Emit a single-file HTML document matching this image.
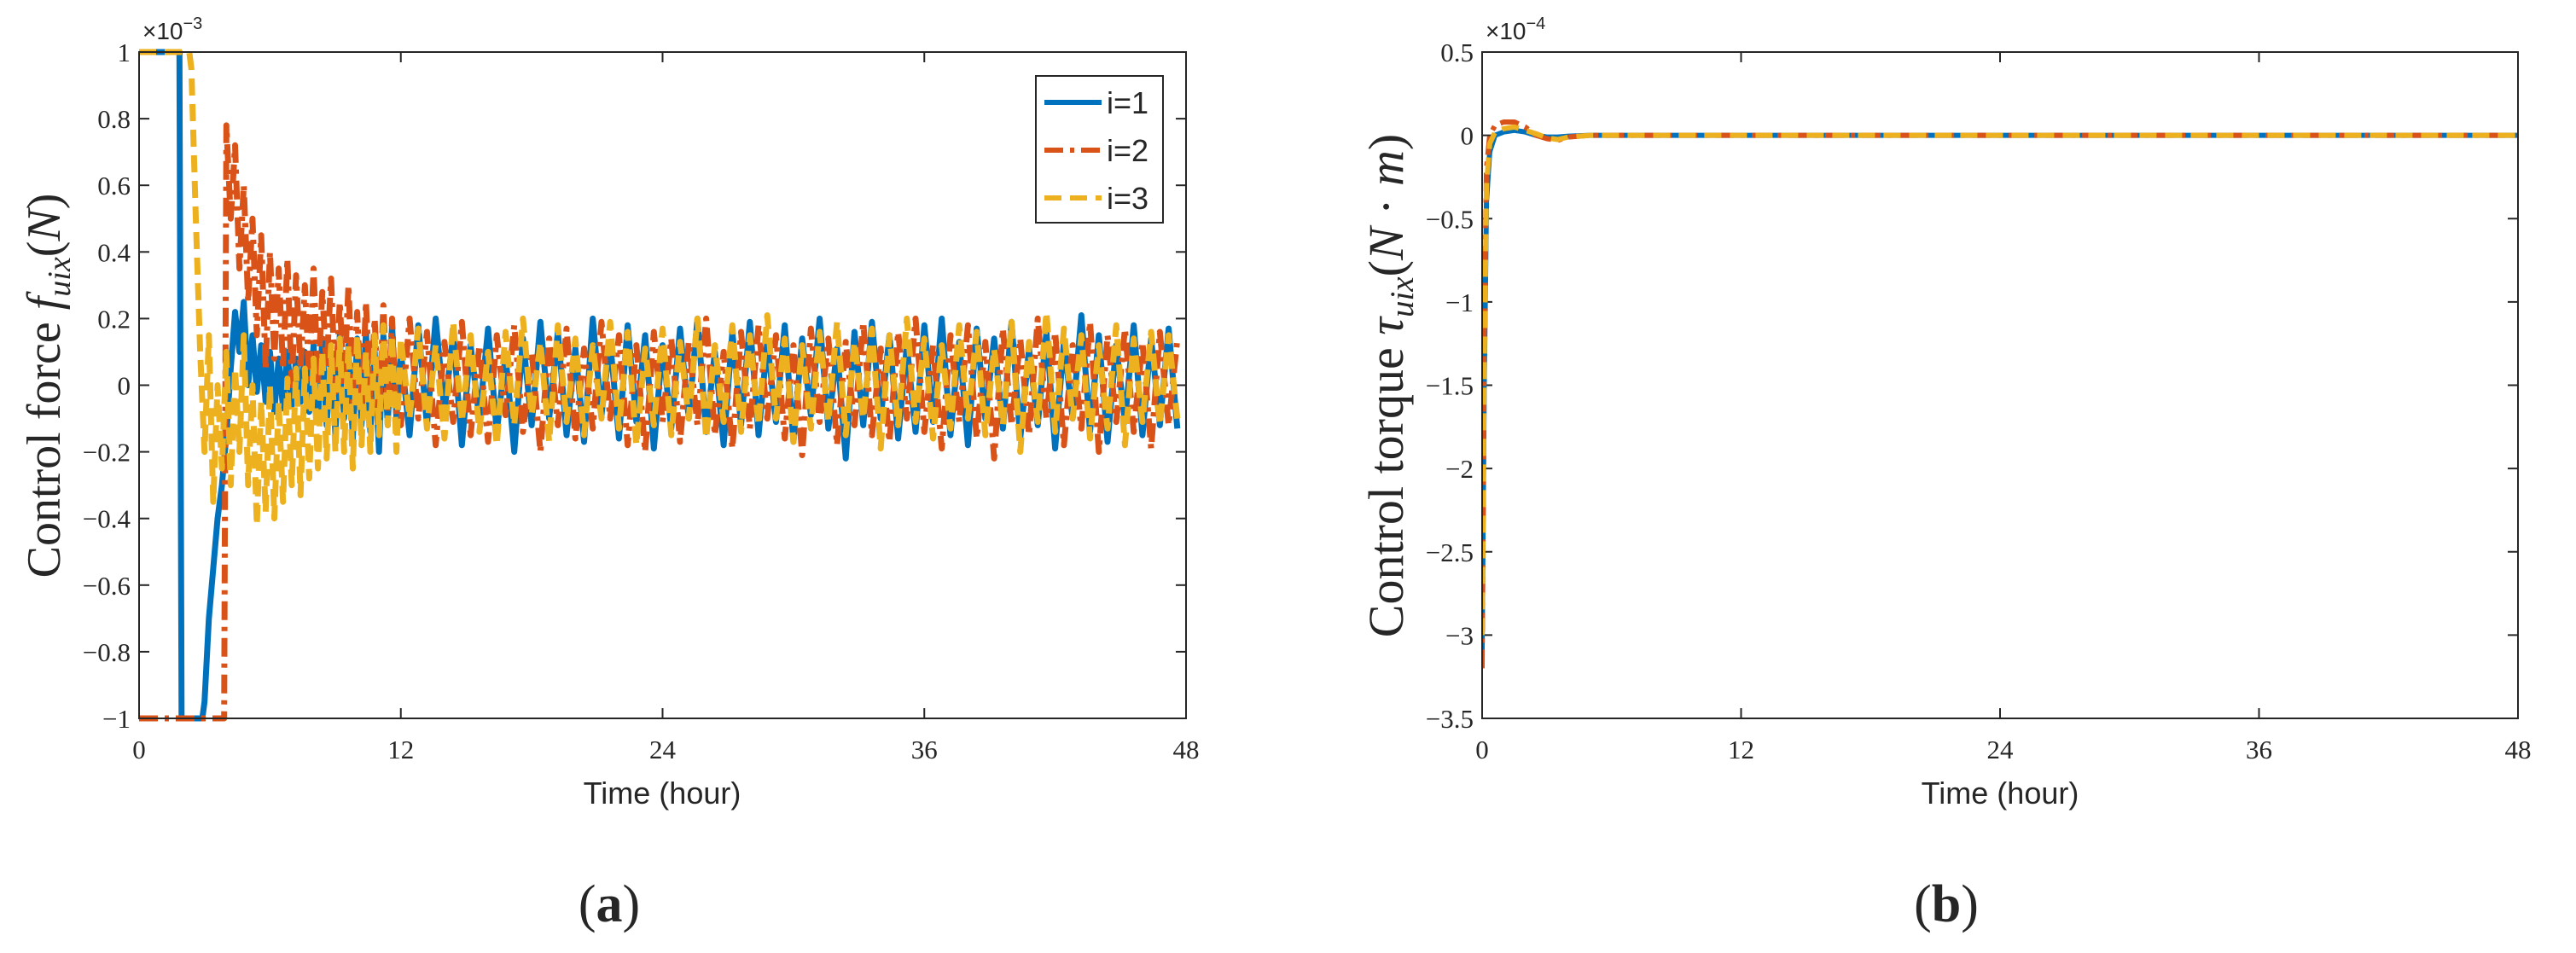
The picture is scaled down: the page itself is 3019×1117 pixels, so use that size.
<!DOCTYPE html>
<html><head><meta charset="utf-8"><style>
html,body{margin:0;padding:0;background:#fff}
svg{display:block}
text{fill:#262626}
.tk{font-family:"Liberation Serif",serif;font-size:31px}
.xl{font-family:"Liberation Sans",sans-serif;font-size:36px}
</style></head><body>
<svg id="fig" width="3019" height="1117" viewBox="0 0 3019 1117" xmlns="http://www.w3.org/2000/svg">
<defs>
<clipPath id="clipA"><rect x="163" y="56" width="1227" height="790"/></clipPath>
<clipPath id="clipB"><rect x="1737" y="56" width="1214" height="790"/></clipPath>
</defs>
<g id="gA"></g>
<g id="gB"></g>
</svg>
<script>
// ---- Panel (a) data: control force (x1e-3 N) ----
const xTicksA = [0, 12, 24, 36, 48];
const yTicksA = [-1, -0.8, -0.6, -0.4, -0.2, 0, 0.2, 0.4, 0.6, 0.8, 1];
const yTickLabelsA = ["\u22121","\u22120.8","\u22120.6","\u22120.4","\u22120.2","0","0.2","0.4","0.6","0.8","1"];
const legendLabels = ["i=1","i=2","i=3"];
const blueHeadT = [0, 1.85, 1.95, 2.9];
const blueHeadV = [1, 1, -1, -1];
const orangeHeadT = [0, 3.9];
const orangeHeadV = [-1, -1];
const yellowHeadT = [0, 2.3];
const yellowHeadV = [1, 1];
const blueTransStart = 3.0;
const blueTrans = [-0.95,-0.7,-0.55,-0.4,-0.3,-0.15,0.05,0.22,0.1,0.25,0.0,0.15,-0.02,0.12,-0.05,0.1,-0.08,0.08,-0.07,0.1,-0.06,0.08,-0.05,0.1,-0.08,0.12,-0.1,0.14,-0.12,0.1,-0.15,0.15,-0.1,0.12,-0.16,0.14,-0.12,0.16,-0.14,0.1,-0.2,0.15,-0.12,0.18,-0.1];
const orangeTransStart = 4.0;
const orangeTrans = [0.78,0.5,0.72,0.35,0.6,0.25,0.5,0.15,0.45,0.05,0.4,0.08,0.35,0.05,0.38,0.0,0.33,0.05,0.3,0.02,0.35,0.0,0.28,0.05,0.32,-0.02,0.25,0.0,0.3,-0.05,0.22,-0.08,0.25,-0.05,0.2,-0.1,0.24,-0.08,0.2,-0.1];
const yellowTransStart = 2.4;
const yellowTrans = [0.95,0.5,0.1,-0.2,0.15,-0.35,0.0,-0.25,0.1,-0.3,0.05,-0.2,0.15,-0.3,0.0,-0.42,-0.05,-0.38,0.0,-0.4,-0.05,-0.35,0.02,-0.3,0.05,-0.33,0.05,-0.28,0.08,-0.25,0.1,-0.22,0.12,-0.2,0.14,-0.2,0.12,-0.25,0.15,-0.18,0.1,-0.2,0.15,-0.15,0.18,-0.12,0.15,-0.2];
const steadyStart = 12.0;
const blueSteady = [0.1,-0.15,0.18,-0.12,0.2,-0.08,0.15,-0.18,0.12,-0.1,0.17,-0.14,0.09,-0.2,0.14,-0.12,0.19,-0.1,0.16,-0.15,0.11,-0.17,0.2,-0.09,0.13,-0.16,0.18,-0.11,0.15,-0.19,0.12,-0.13,0.17,-0.1,0.2,-0.14,0.1,-0.18,0.16,-0.12,0.19,-0.15,0.13,-0.11,0.18,-0.17,0.14,-0.09,0.2,-0.13,0.11,-0.22,0.16,-0.12,0.19,-0.1,0.15,-0.16,0.12,-0.14,0.18,-0.11,0.2,-0.15,0.13,-0.18,0.17,-0.1,0.14,-0.13,0.19,-0.16,0.11,-0.12,0.16,-0.19,0.13,-0.1,0.21,-0.14,0.15,-0.17,0.12,-0.11,0.18,-0.15,0.14,-0.12,0.17,-0.13];
const orangeSteady = [-0.12,0.2,-0.1,0.16,-0.18,0.13,-0.11,0.19,-0.15,0.12,-0.17,0.15,-0.09,0.18,-0.14,0.1,-0.2,0.14,-0.12,0.17,-0.16,0.11,-0.13,0.19,-0.1,0.15,-0.18,0.12,-0.2,0.16,-0.11,0.14,-0.17,0.13,-0.12,0.2,-0.15,0.1,-0.19,0.16,-0.13,0.18,-0.1,0.15,-0.16,0.12,-0.21,0.17,-0.11,0.14,-0.18,0.13,-0.12,0.19,-0.15,0.11,-0.17,0.16,-0.1,0.2,-0.14,0.12,-0.19,0.15,-0.11,0.18,-0.16,0.13,-0.22,0.17,-0.12,0.14,-0.15,0.2,-0.1,0.16,-0.18,0.12,-0.13,0.19,-0.2,0.15,-0.11,0.17,-0.14,0.13,-0.19,0.16,-0.12,0.14];
const yellowSteady = [0.14,-0.1,0.17,-0.13,0.12,-0.16,0.19,-0.11,0.15,-0.14,0.1,-0.18,0.16,-0.12,0.2,-0.09,0.13,-0.17,0.18,-0.11,0.14,-0.15,0.12,-0.1,0.19,-0.13,0.16,-0.18,0.11,-0.12,0.17,-0.15,0.13,-0.1,0.2,-0.16,0.12,-0.11,0.18,-0.14,0.15,-0.12,0.21,-0.1,0.14,-0.17,0.12,-0.13,0.16,-0.11,0.19,-0.15,0.13,-0.1,0.17,-0.19,0.15,-0.12,0.2,-0.11,0.14,-0.16,0.12,-0.13,0.18,-0.1,0.16,-0.15,0.11,-0.12,0.19,-0.2,0.13,-0.11,0.22,-0.14,0.17,-0.1,0.15,-0.16,0.12,-0.13,0.18,-0.18,0.14,-0.11,0.16,-0.12,0.15,-0.1];

// ---- Panel (b) data: control torque (x1e-4 N·m) ----
const xTicksB = [0, 12, 24, 36, 48];
const yTicksB = [-3.5, -3, -2.5, -2, -1.5, -1, -0.5, 0, 0.5];
const yTickLabelsB = ["\u22123.5","\u22123","\u22122.5","\u22122","\u22121.5","\u22121","\u22120.5","0","0.5"];
const torqueT = [0, 0.1, 0.2, 0.35, 0.6, 1.0, 1.5, 2.0, 2.5, 3.0, 3.5, 4.0, 5.0, 6.0, 12, 24, 36, 48];
const torqueBlue = [-3.1, -1.5, -0.4, -0.1, 0.0, 0.02, 0.03, 0.02, 0.0, -0.01, -0.01, -0.005, 0, 0, 0, 0, 0, 0];
const torqueOrange = [-3.2, -1.2, -0.2, 0.0, 0.06, 0.08, 0.08, 0.05, 0.0, -0.02, -0.03, -0.01, 0, 0, 0, 0, 0, 0];
const torqueYellow = [-3.0, -1.4, -0.3, -0.05, 0.02, 0.04, 0.05, 0.03, 0.01, -0.015, -0.025, -0.01, 0, 0, 0, 0, 0, 0];

const NS = "http://www.w3.org/2000/svg";
const COLORS = ["#0072BD", "#D95319", "#EDB120"];
const DASH = ["none", "22 8 5 8", "20 10"];

function mk(tag, attrs, parent) {
  const e = document.createElementNS(NS, tag);
  for (const k in attrs) e.setAttribute(k, attrs[k]);
  parent.appendChild(e);
  return e;
}
function build(headT, headV, start, step, vals) {
  const T = headT.slice(), V = headV.slice();
  vals.forEach((v, i) => { T.push(start + i * step); V.push(v); });
  return [T, V];
}
function joinSeries(a, b) { return [a[0].concat(b[0]), a[1].concat(b[1])]; }

function drawAxes(g, ax, xTicks, yTicks, yLabels, expText) {
  const {x0, x1, y0, y1, ymin, ymax} = ax;
  const sx = t => x0 + (t - 0) / 48 * (x1 - x0);
  const sy = v => y1 - (v - ymin) / (ymax - ymin) * (y1 - y0);
  xTicks.forEach(t => {
    const x = sx(t);
    const a = mk("line", {x1: x, x2: x, y1: y1, y2: y1 - 12, stroke: "#262626", "stroke-width": 2}, g);
    
    
    const b = mk("line", {x1: x, x2: x, y1: y0, y2: y0 + 12, stroke: "#262626", "stroke-width": 2}, g);
    
    
    const l = mk("text", {x: x, y: y1 + 47, "text-anchor": "middle", class: "tk"}, g);
    l.textContent = String(t);
    
    
  });
  yTicks.forEach((v, i) => {
    const y = sy(v);
    const a = mk("line", {x1: x0, x2: x0 + 12, y1: y, y2: y, stroke: "#262626", "stroke-width": 2}, g);
    
    
    const b = mk("line", {x1: x1, x2: x1 - 12, y1: y, y2: y, stroke: "#262626", "stroke-width": 2}, g);
    
    
    const l = mk("text", {x: x0 - 10, y: y + 11, "text-anchor": "end", class: "tk"}, g);
    l.textContent = yLabels[i];
    
    
  });
  const e = mk("text", {x: x0 + 4, y: 46, "font-family": "Liberation Sans, sans-serif", "font-size": 28}, g);
  
  
  e.innerHTML = '\u00d710<tspan dy="-12" font-size="20">' + expText + '</tspan>';
  return [sx, sy];
}
function drawLine(g, T, V, sx, sy, idx, clip, w) {
  const pts = T.map((t, i) => sx(t).toFixed(1) + "," + sy(V[i]).toFixed(1)).join(" ");
  const p = mk("polyline", {points: pts, fill: "none", stroke: COLORS[idx], "stroke-width": w, "stroke-dasharray": DASH[idx], "stroke-linejoin": "round", "clip-path": "url(#" + clip + ")"}, g);
  
  
}

// Panel A
const gA = document.getElementById("gA");
const axA = {x0: 163, x1: 1390, y0: 61, y1: 842, ymin: -1, ymax: 1};
const [sxA, syA] = drawAxes(gA, axA, xTicksA, yTicksA, yTickLabelsA, "\u22123");
const sB = joinSeries(build(blueHeadT, blueHeadV, blueTransStart, 0.2, blueTrans), build([], [], steadyStart, 0.4, blueSteady));
const sO = joinSeries(build(orangeHeadT, orangeHeadV, orangeTransStart, 0.2, orangeTrans), build([], [], steadyStart, 0.4, orangeSteady));
const sY = joinSeries(build(yellowHeadT, yellowHeadV, yellowTransStart, 0.2, yellowTrans), build([], [], steadyStart, 0.4, yellowSteady));
drawLine(gA, sB[0], sB[1], sxA, syA, 0, "clipA", 7);
drawLine(gA, sO[0], sO[1], sxA, syA, 1, "clipA", 7);
drawLine(gA, sY[0], sY[1], sxA, syA, 2, "clipA", 7);
const boxA = mk("rect", {x: 163, y: 61, width: 1227, height: 781, fill: "none", stroke: "#262626", "stroke-width": 2}, gA);


const lg = mk("g", {}, gA);


mk("rect", {x: 1214, y: 89, width: 149, height: 172, fill: "#fff", stroke: "#262626", "stroke-width": 2}, lg);
legendLabels.forEach((lab, i) => {
  const y = 120 + i * 56;
  const ln = mk("line", {x1: 1224, x2: 1291, y1: y, y2: y, stroke: COLORS[i], "stroke-width": 6, "stroke-dasharray": DASH[i]}, lg);
  
  
  const t = mk("text", {x: 1297, y: y + 13, "font-family": "Liberation Sans, sans-serif", "font-size": 36, fill: "#000"}, lg);
  t.textContent = lab;
  
  
});
const xtA = mk("text", {x: 776, y: 942, "text-anchor": "middle", class: "xl"}, gA);
xtA.textContent = "Time (hour)";


const ytA = mk("text", {x: 0, y: 0, "text-anchor": "middle", "font-family": "Liberation Serif, serif", "font-size": 56, transform: "translate(70,452) rotate(-90)"}, gA);
ytA.innerHTML = 'Control force <tspan font-style="italic">f</tspan><tspan font-style="italic" font-size="38" dy="12">uix</tspan><tspan dy="-12">(</tspan><tspan font-style="italic">N</tspan>)';


const capA = mk("text", {x: 714, y: 1080, "text-anchor": "middle", "font-family": "Liberation Serif, serif", "font-size": 62, fill: "#000"}, gA);
capA.innerHTML = '(<tspan font-weight="bold">a</tspan>)';



// Panel B
const gB = document.getElementById("gB");
const axB = {x0: 1737, x1: 2951, y0: 61, y1: 842, ymin: -3.5, ymax: 0.5};
const [sxB, syB] = drawAxes(gB, axB, xTicksB, yTicksB, yTickLabelsB, "\u22124");
drawLine(gB, torqueT, torqueBlue, sxB, syB, 0, "clipB", 6);
drawLine(gB, torqueT, torqueOrange, sxB, syB, 1, "clipB", 6);
drawLine(gB, torqueT, torqueYellow, sxB, syB, 2, "clipB", 6);
const boxB = mk("rect", {x: 1737, y: 61, width: 1214, height: 781, fill: "none", stroke: "#262626", "stroke-width": 2}, gB);


const xtB = mk("text", {x: 2344, y: 942, "text-anchor": "middle", class: "xl"}, gB);
xtB.textContent = "Time (hour)";


const ytB = mk("text", {x: 0, y: 0, "text-anchor": "middle", "font-family": "Liberation Serif, serif", "font-size": 58, transform: "translate(1644,452) rotate(-90)"}, gB);
ytB.innerHTML = 'Control torque <tspan font-style="italic">\u03c4</tspan><tspan font-style="italic" font-size="39" dy="12">uix</tspan><tspan dy="-12">(</tspan><tspan font-style="italic">N</tspan> \u00b7 <tspan font-style="italic">m</tspan>)';


const capB = mk("text", {x: 2281, y: 1080, "text-anchor": "middle", "font-family": "Liberation Serif, serif", "font-size": 62, fill: "#000"}, gB);
capB.innerHTML = '(<tspan font-weight="bold">b</tspan>)';


</script>
</body></html>
